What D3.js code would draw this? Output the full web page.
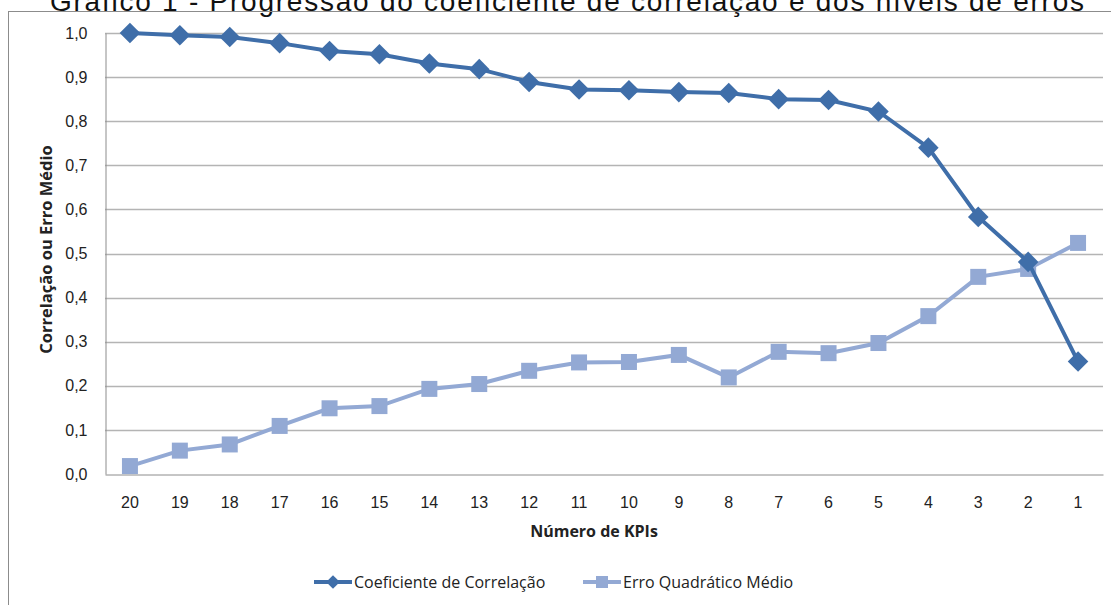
<!DOCTYPE html>
<html lang="pt">
<head>
    <meta charset="UTF-8">
    <title>Gráfico 1 - Progressão do coeficiente de correlação</title>
    <script src="https://d3js.org/d3.v7.min.js"></script>
    <style>
        body { margin: 0; background: #fff; }
        svg { font-family: "Open Sans", "DejaVu Sans", sans-serif; }
    </style>
</head>
<body>
    <svg width="1111" height="605"></svg>

    <script>
        // data
        const kpis = ["20","19","18","17","16","15","14","13","12","11","10","9","8","7","6","5","4","3","2","1"];
        const correlacao = [1.000, 0.995, 0.991, 0.977, 0.959, 0.952, 0.931, 0.918, 0.889, 0.872,
                            0.870, 0.866, 0.864, 0.850, 0.848, 0.822, 0.740, 0.583, 0.481, 0.255];
        const erro = [0.018, 0.053, 0.067, 0.109, 0.149, 0.154, 0.193, 0.204, 0.234, 0.253,
                      0.254, 0.270, 0.219, 0.277, 0.274, 0.297, 0.358, 0.447, 0.465, 0.524];
        const yTicks = [0, 0.1, 0.2, 0.3, 0.4, 0.5, 0.6, 0.7, 0.8, 0.9, 1.0];

        const corColor = "#3F6EA9";
        const errColor = "#93A9D4";

        const svg = d3.select("svg");

        // title, cut off at the top like the scan
        svg.append("text")
            .attr("x", 567)
            .attr("y", 11)
            .attr("text-anchor", "middle")
            .attr("font-family", "Liberation Sans, Arial, sans-serif")
            .attr("font-size", 28)
            .attr("textLength", 1034)
            .attr("fill", "#111")
            .text("Gráfico 1 - Progressão do coeficiente de correlação e dos níveis de erros");

        // outer chart frame
        svg.append("rect")
            .attr("x", 8.5).attr("y", 11.5)
            .attr("width", 1120).attr("height", 620)
            .attr("fill", "none")
            .attr("stroke", "#8c8c8c");

        const margin = {left: 105, right: 1103, top: 33, bottom: 474};

        const x = d3.scaleBand()
            .domain(kpis)
            .range([margin.left, margin.right]);

        const y = d3.scaleLinear()
            .domain([0, 1])
            .range([margin.bottom, margin.top]);

        // gridlines
        svg.append("g")
            .selectAll("line")
            .data(yTicks.slice(1))
            .join("line")
            .attr("x1", margin.left).attr("x2", margin.right)
            .attr("y1", d => Math.round(y(d)) + 0.5)
            .attr("y2", d => Math.round(y(d)) + 0.5)
            .attr("stroke", "#b4b4b4")
            .attr("stroke-width", 1.3);

        // y axis
        const yAxis = svg.append("g")
            .attr("transform", `translate(${margin.left + 0.5},0)`)
            .call(d3.axisLeft(y).tickValues(yTicks).tickSize(0).tickPadding(18)
                .tickFormat(d => d3.format(".1f")(d).replace(".", ",")));
        yAxis.select(".domain").attr("stroke", "#8c8c8c");
        yAxis.selectAll("text").attr("font-size", 16).attr("fill", "#222");

        // x axis
        const xAxis = svg.append("g")
            .attr("transform", `translate(0,${Math.round(y(0)) + 0.5})`)
            .call(d3.axisBottom(x).tickSize(0).tickPadding(22));
        xAxis.select(".domain").attr("stroke", "#8c8c8c");
        xAxis.selectAll("text").attr("font-size", 16).attr("fill", "#222");

        // axis titles
        svg.append("text")
            .attr("x", (margin.left + margin.right) / 2 - 10)
            .attr("y", 537)
            .attr("text-anchor", "middle")
            .attr("font-size", 16)
            .attr("font-weight", "bold")
            .attr("fill", "#222")
            .text("Número de KPIs");

        svg.append("text")
            .attr("transform", `translate(52,${(margin.top + margin.bottom) / 2 - 4}) rotate(-90)`)
            .attr("text-anchor", "middle")
            .attr("font-size", 16.5)
            .attr("font-weight", "bold")
            .attr("fill", "#222")
            .text("Correlação ou Erro Médio");

        const cx = d => x(d) + x.bandwidth() / 2;

        const line = (vals) => d3.line()
            .x((d, i) => cx(kpis[i]))
            .y(d => y(d))(vals);

        // error series
        svg.append("path")
            .attr("d", line(erro))
            .attr("fill", "none")
            .attr("stroke", errColor)
            .attr("stroke-width", 4);

        svg.append("g")
            .selectAll("rect")
            .data(erro)
            .join("rect")
            .attr("x", (d, i) => cx(kpis[i]) - 8)
            .attr("y", d => y(d) - 8)
            .attr("width", 16).attr("height", 16)
            .attr("fill", errColor);

        // correlation series
        svg.append("path")
            .attr("d", line(correlacao))
            .attr("fill", "none")
            .attr("stroke", corColor)
            .attr("stroke-width", 4);

        const diamond = d3.symbol().type(d3.symbolDiamond2).size(270);
        svg.append("g")
            .selectAll("path")
            .data(correlacao)
            .join("path")
            .attr("transform", (d, i) => `translate(${cx(kpis[i])},${y(d)})`)
            .attr("d", diamond)
            .attr("fill", corColor);

        // legend
        const legend = [
            {label: "Coeficiente de Correlação", color: corColor, marker: "diamond", x: 314},
            {label: "Erro Quadrático Médio", color: errColor, marker: "square", x: 583}
        ];
        const lg = svg.append("g").selectAll("g")
            .data(legend)
            .join("g")
            .attr("transform", d => `translate(${d.x},582)`);
        lg.append("line")
            .attr("x1", 0).attr("x2", 38)
            .attr("stroke", d => d.color)
            .attr("stroke-width", 4);
        lg.filter(d => d.marker === "diamond").append("path")
            .attr("transform", "translate(19,0)")
            .attr("d", d3.symbol().type(d3.symbolDiamond2).size(120))
            .attr("fill", d => d.color);
        lg.filter(d => d.marker === "square").append("rect")
            .attr("x", 13).attr("y", -6).attr("width", 12).attr("height", 12)
            .attr("fill", d => d.color);
        lg.append("text")
            .attr("x", 40)
            .attr("dy", "0.35em")
            .attr("font-size", 16)
            .attr("fill", "#222")
            .text(d => d.label);
    </script>
</body>
</html>
